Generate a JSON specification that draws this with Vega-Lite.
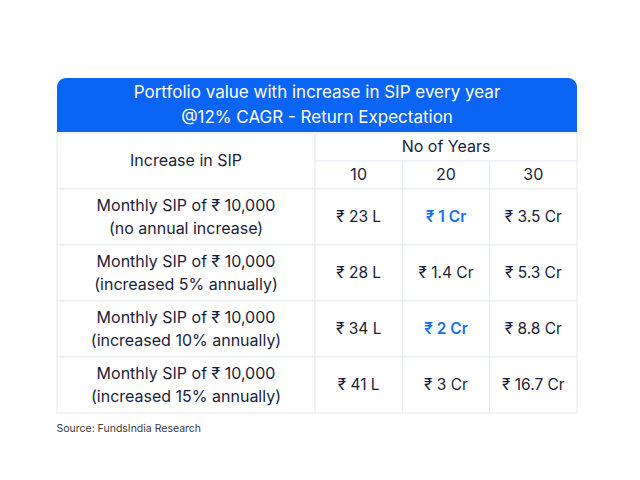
{
  "$schema": "https://vega.github.io/schema/vega-lite/v6.json",
  "padding": {"left": 56, "top": 78, "right": 0, "bottom": 0},
  "background": "white",
  "config": {
    "view": {"stroke": null},
    "concat": {"spacing": 0},
    "font": "Inter",
    "text": {"font": "Inter", "color": "#1b1d3a", "fontSize": 15.5}
  },
  "title": {"text": "Source: FundsIndia Research", "orient": "bottom", "anchor": "start", "fontSize": 10.5, "fontWeight": "normal", "color": "#3a3a3a", "offset": 10, "font": "Inter"},
  "datasets": {
    "head": [{"lines": ["Portfolio value with increase in SIP every year", "@12% CAGR - Return Expectation"]}],
    "plans": [
      {"increase": "no annual increase", "label": ["Monthly SIP of ₹ 10,000", "(no annual increase)"]},
      {"increase": "increased 5% annually", "label": ["Monthly SIP of ₹ 10,000", "(increased 5% annually)"]},
      {"increase": "increased 10% annually", "label": ["Monthly SIP of ₹ 10,000", "(increased 10% annually)"]},
      {"increase": "increased 15% annually", "label": ["Monthly SIP of ₹ 10,000", "(increased 15% annually)"]}
    ],
    "years": [{"row": "years", "years": "10"}, {"row": "years", "years": "20"}, {"row": "years", "years": "30"}],
    "cells": [
      {"increase": "no annual increase", "years": "10", "value": "₹ 23 L", "hl": false},
      {"increase": "no annual increase", "years": "20", "value": "₹ 1 Cr", "hl": true},
      {"increase": "no annual increase", "years": "30", "value": "₹ 3.5 Cr", "hl": false},
      {"increase": "increased 5% annually", "years": "10", "value": "₹ 28 L", "hl": false},
      {"increase": "increased 5% annually", "years": "20", "value": "₹ 1.4 Cr", "hl": false},
      {"increase": "increased 5% annually", "years": "30", "value": "₹ 5.3 Cr", "hl": false},
      {"increase": "increased 10% annually", "years": "10", "value": "₹ 34 L", "hl": false},
      {"increase": "increased 10% annually", "years": "20", "value": "₹ 2 Cr", "hl": true},
      {"increase": "increased 10% annually", "years": "30", "value": "₹ 8.8 Cr", "hl": false},
      {"increase": "increased 15% annually", "years": "10", "value": "₹ 41 L", "hl": false},
      {"increase": "increased 15% annually", "years": "20", "value": "₹ 3 Cr", "hl": false},
      {"increase": "increased 15% annually", "years": "30", "value": "₹ 16.7 Cr", "hl": false}
    ]
  },
  "spacing": 0,
  "vconcat": [
    {
      "width": 520, "height": 54,
      "data": {"name": "head"},
      "layer": [
        {"mark": {"type": "rect", "color": "#0a64f4", "cornerRadiusTopLeft": 9, "cornerRadiusTopRight": 9}, "encoding": {}},
        {"mark": {"type": "text", "color": "white", "fontSize": 17, "lineHeight": 25, "baseline": "middle", "dy": -12}, "encoding": {"text": {"field": "lines"}}}
      ]
    },
    {
      "columns": 2,
      "spacing": 0,
      "bounds": "flush",
      "align": "each",
      "concat": [
        {
          "width": 258, "height": 56,
          "data": {"values": [{"t": "Increase in SIP"}]},
          "layer": [
            {"mark": {"type": "rect", "fill": "white", "stroke": "#e6eaf4", "strokeWidth": 1}, "encoding": {}},
            {"mark": {"type": "text", "baseline": "middle", "fontSize": 16}, "encoding": {"text": {"field": "t"}}}
          ]
        },
        {
          "width": 262, "height": 56,
          "encoding": {"y": {"field": "row", "type": "nominal", "axis": null, "scale": {"domain": ["No of Years", "years"], "paddingInner": 0, "paddingOuter": 0}}},
          "layer": [
            {
              "data": {"values": [{"row": "No of Years", "t": "No of Years"}]},
              "layer": [
                {"mark": {"type": "rect", "fill": "white", "stroke": "#e6eaf4", "strokeWidth": 1}},
                {"mark": {"type": "text", "baseline": "middle", "fontSize": 16}, "encoding": {"text": {"field": "t"}}}
              ]
            },
            {
              "data": {"name": "years"},
              "encoding": {"x": {"field": "years", "type": "ordinal", "sort": null, "axis": null, "scale": {"paddingInner": 0, "paddingOuter": 0}}},
              "layer": [
                {"mark": {"type": "rect", "fill": "white", "stroke": "#e6eaf4", "strokeWidth": 1}},
                {"mark": {"type": "text", "baseline": "middle", "fontSize": 16}, "encoding": {"text": {"field": "years"}}}
              ]
            }
          ]
        },
        {
          "width": 258, "height": 224,
          "data": {"name": "plans"},
          "encoding": {"y": {"field": "increase", "type": "nominal", "sort": null, "axis": null, "scale": {"paddingInner": 0, "paddingOuter": 0}}},
          "layer": [
            {"mark": {"type": "rect", "fill": "white", "stroke": "#e6eaf4", "strokeWidth": 1}},
            {"mark": {"type": "text", "baseline": "middle", "lineHeight": 23, "dy": -11.5, "fontSize": 16}, "encoding": {"text": {"field": "label"}}}
          ]
        },
        {
          "width": 262, "height": 224,
          "data": {"name": "cells"},
          "encoding": {
            "x": {"field": "years", "type": "ordinal", "sort": null, "axis": null, "scale": {"paddingInner": 0, "paddingOuter": 0}},
            "y": {"field": "increase", "type": "nominal", "sort": null, "axis": null, "scale": {"paddingInner": 0, "paddingOuter": 0}}
          },
          "layer": [
            {"mark": {"type": "rect", "fill": "white", "stroke": "#e6eaf4", "strokeWidth": 1}},
            {"transform": [{"filter": "!datum.hl"}], "mark": {"type": "text", "baseline": "middle"}, "encoding": {"text": {"field": "value"}}},
            {"transform": [{"filter": "datum.hl"}], "mark": {"type": "text", "baseline": "middle", "color": "#1a6ef5", "fontWeight": 600}, "encoding": {"text": {"field": "value"}}}
          ]
        }
      ]
    }
  ]
}
